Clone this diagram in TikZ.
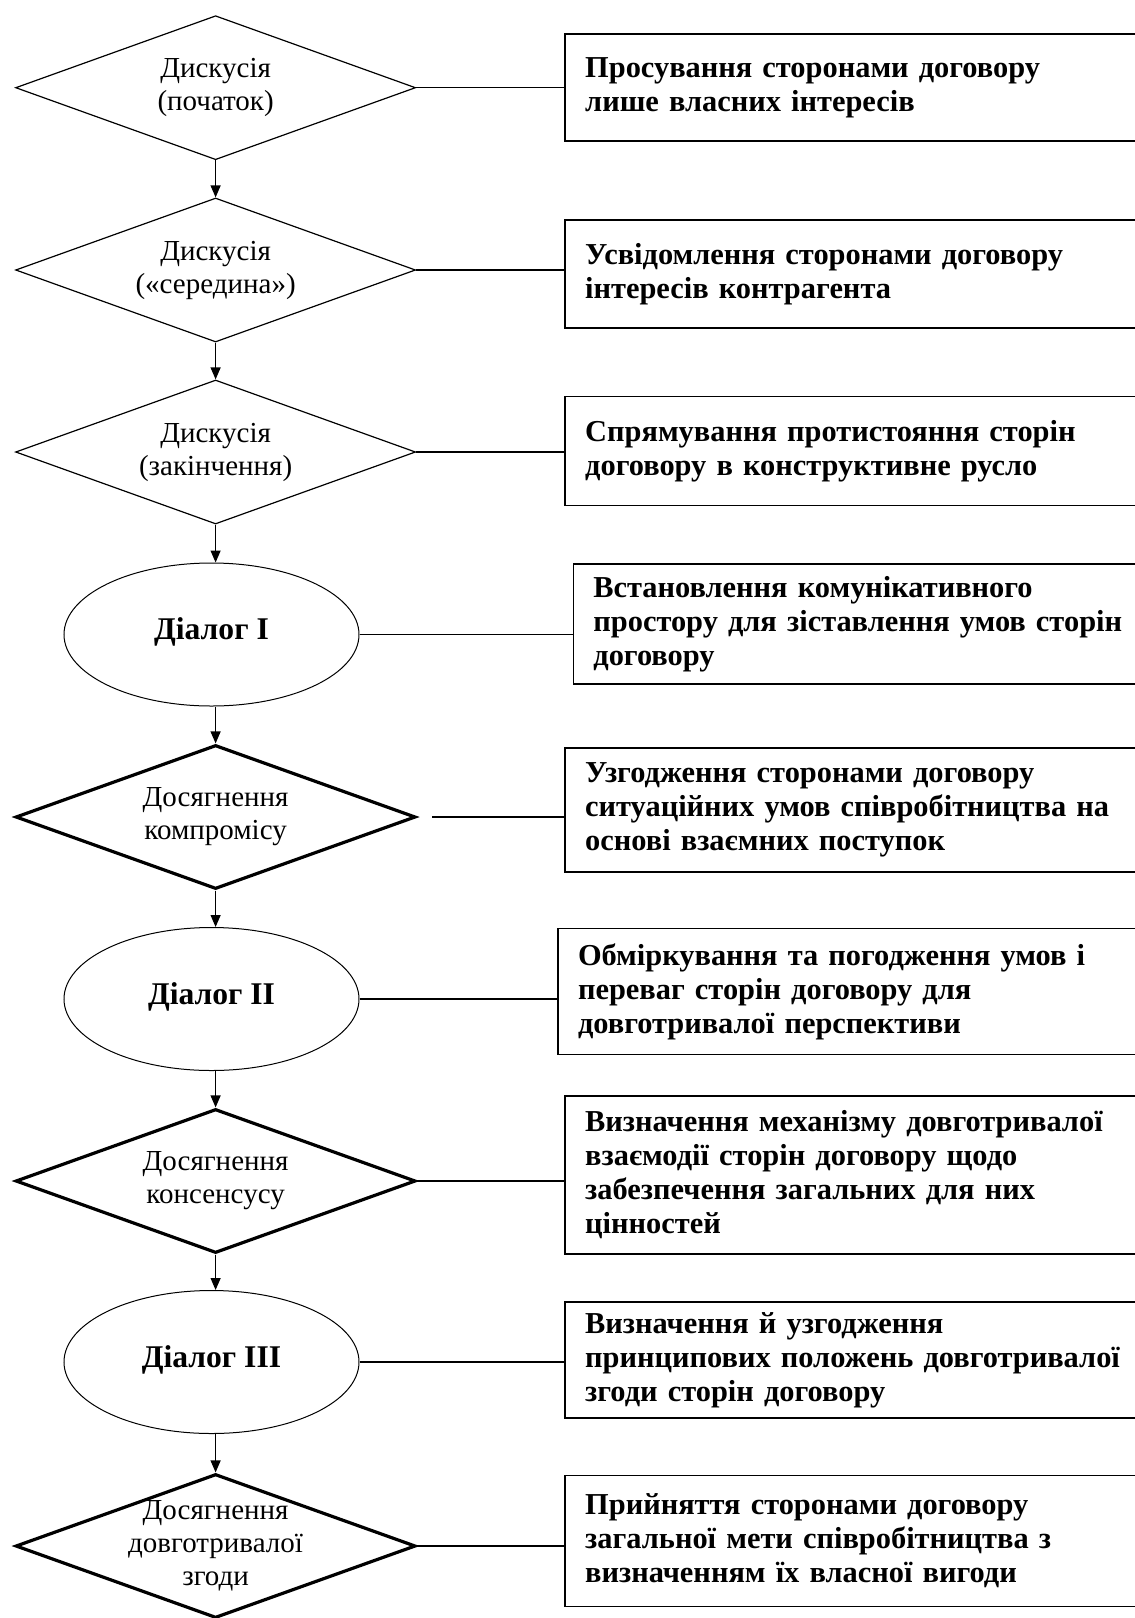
\documentclass[tikz,border=0pt]{standalone}
\usepackage{fontspec}
\setmainfont{Liberation Serif}
\usetikzlibrary{shapes.geometric,arrows.meta}
\tikzset{
  stage/.style={diamond, draw, line width=0.6pt, minimum width=200pt, minimum height=72pt, inner sep=0pt},
  stagebold/.style={stage, line width=1.6pt},
  stagetext/.style={align=center, font=\fontsize{14.5}{16.5}\selectfont},
  dialog/.style={ellipse, draw, line width=0.5pt, minimum width=147.5pt, minimum height=71.5pt, font=\bfseries\fontsize{15.8}{17}\selectfont},
  note/.style={rectangle, draw, line width=0.8pt, anchor=west, minimum width=300pt, text width=280pt, inner xsep=10pt, align=left, font=\bfseries\fontsize{15.2}{17}\selectfont},
}
\begin{document}
\begin{tikzpicture}[x=0.5pt, y=-0.5pt]
      \useasboundingbox (0,0) rectangle (1135,1618);
      \draw
        (215.6,87.7) node[stage, label={[stagetext]center:{Дискусія\\(початок)}}] (disc1){}
        (215.6,270) node[stage, label={[stagetext]center:{Дискусія\\(«середина»)}}] (disc2){}
        (215.6,452) node[stage, label={[stagetext]center:{Дискусія\\(закінчення)}}] (disc3){}
        (211.5,634.5) node[dialog] (dlg1){\raisebox{6pt}{Діалог I}}
        (215.6,817) node[stagebold, label={[stagetext]center:{Досягнення\\компромісу}}] (comp){}
        (211.5,999) node[dialog] (dlg2){\raisebox{5pt}{Діалог II}}
        (215.6,1181) node[stagebold, label={[stagetext]center:{Досягнення\\консенсусу}}] (cons){}
        (211.5,1362) node[dialog] (dlg3){\raisebox{5pt}{Діалог III}}
        (215.6,1546) node[stagebold, label={[stagetext]center:{Досягнення\\довготривалої\\згоди}}] (agree){};
      \draw
        (564.4,87.7) node[note, minimum height=53.5pt] (b1){Просування сторонами договору\\лише власних інтересів}
        (564.4,274) node[note, minimum height=54pt] (b2){Усвідомлення сторонами договору\\інтересів контрагента}
        (564.4,451) node[note, minimum height=54.5pt] (b3){Спрямування протистояння сторін\\договору в конструктивне русло}
        (572.6,624) node[note, minimum height=60pt] (b4){Встановлення комунікативного\\простору для зіставлення умов сторін\\договору}
        (564.4,810) node[note, minimum height=62pt] (b5){Узгодження сторонами договору\\ситуаційних умов співробітництва на\\основі взаємних поступок}
        (557.2,991.5) node[note, minimum height=63pt] (b6){Обміркування та погодження умов і\\переваг сторін договору для\\довготривалої перспективи}
        (564.4,1174.7) node[note, minimum height=79pt] (b7){Визначення механізму довготривалої\\взаємодії сторін договору щодо\\забезпечення загальних для них\\цінностей}
        (564.4,1360) node[note, minimum height=58pt] (b8){Визначення й узгодження\\принципових положень довготривалої\\згоди сторін договору}
        (564.4,1541) node[note, minimum height=65.5pt] (b9){Прийняття сторонами договору\\загальної мети співробітництва з\\визначенням їх власної вигоди};
      \begin{scope}[-{Triangle[length=6pt,width=5pt]}, line width=0.6pt]
        \draw (disc1.south) to (disc2.north);
        \draw (disc2.south) to (disc3.north);
        \draw (disc3.south) to (disc3.south |- dlg1.north);
        \draw (dlg1.south -| comp.north) to (comp.north);
        \draw (comp.south) to (comp.south |- dlg2.north);
        \draw (dlg2.south -| cons.north) to (cons.north);
        \draw (cons.south) to (cons.south |- dlg3.north);
        \draw (dlg3.south -| agree.north) to (agree.north);
      \end{scope}
      \begin{scope}[-, line width=0.6pt]
        \draw (disc1.east) to (disc1.east -| b1.west);
        \draw (disc2.east) to (disc2.east -| b2.west);
        \draw (disc3.east) to (disc3.east -| b3.west);
        \draw (dlg1.east) to (dlg1.east -| b4.west);
        \draw ([xshift=7.5pt]comp.east) to (comp.east -| b5.west);
        \draw (dlg2.east) to (dlg2.east -| b6.west);
        \draw (cons.east) to (cons.east -| b7.west);
        \draw (dlg3.east) to (dlg3.east -| b8.west);
        \draw (agree.east) to (agree.east -| b9.west);
      \end{scope}
    \end{tikzpicture}
\end{document}
